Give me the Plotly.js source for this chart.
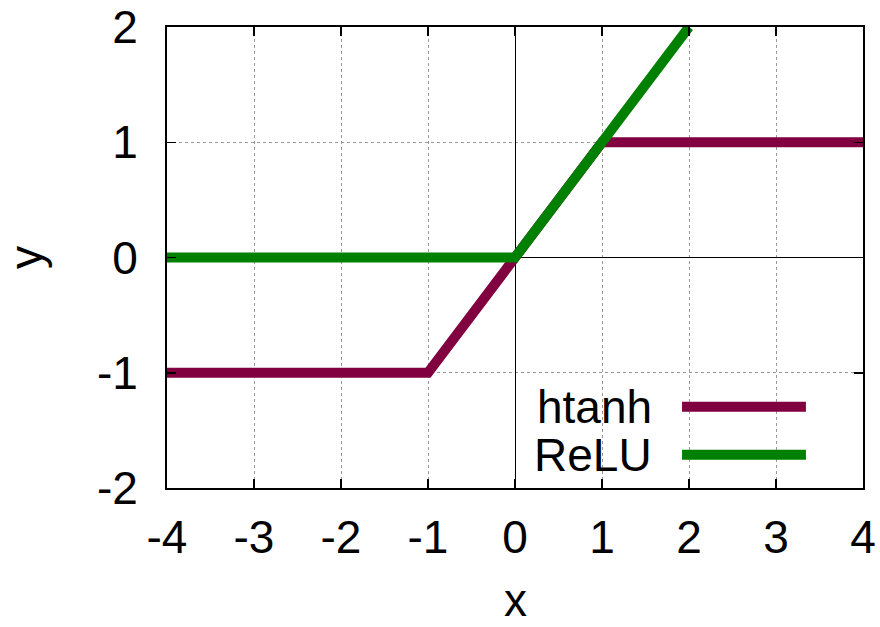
<!DOCTYPE html>
<html>
<head>
<meta charset="utf-8">
<script src="https://cdn.plot.ly/plotly-3.0.1.min.js"></script>
<style>html,body{margin:0;padding:0;background:#fff;}#chart{width:880px;height:627px;}</style>
</head>
<body>
<div id="chart"></div>
<script>
// Data
const seriesNames = ["htanh", "ReLU"];
const htanhX = [-4, -1, 1, 4];
const htanhY = [-1, -1, 1, 1];
const reluX = [-4, 0, 2];
const reluY = [0, 0, 2];
const xTicks = [-4, -3, -2, -1, 0, 1, 2, 3, 4];
const xTickText = ["-4", "-3", "-2", "-1", "0", "1", "2", "3", "4"];
const yTicks = [-2, -1, 0, 1, 2];
const yTickText = ["-2", "-1", "0", "1", "2"];
const xTitle = "x";
const yTitle = "y";
const colors = ["#800040", "#008000"];

const FONT = "Liberation Sans, Arial, sans-serif";

const traces = [
  {x: htanhX, y: htanhY, mode: "lines", name: seriesNames[0], line: {color: colors[0], width: 10}},
  {x: reluX, y: reluY, mode: "lines", name: seriesNames[1], line: {color: colors[1], width: 10}}
];

const axisCommon = {
  showline: true, mirror: "ticks", linecolor: "#000", linewidth: 2,
  ticks: "inside", ticklen: 9, tickwidth: 1.5, tickcolor: "#000",
  showgrid: true, gridcolor: "#999", griddash: "dot", gridwidth: 1,
  zeroline: true, zerolinecolor: "#000", zerolinewidth: 1,
  tickfont: {family: FONT, size: 46, color: "#000"},
  fixedrange: true
};

// legend (gnuplot style: text left, sample right), box at lower right
const legBox = {x0: 0.505, x1: 1, y0: 0, y1: 0.228};
const shapes = [
  {type: "rect", xref: "paper", yref: "paper", x0: legBox.x0, x1: legBox.x1, y0: legBox.y0, y1: legBox.y1,
   fillcolor: "#fff", line: {width: 0}, layer: "between"}
];
const annotations = [];
const rowY = [0.176, 0.072];
seriesNames.forEach((n, i) => {
  shapes.push({type: "line", xref: "paper", yref: "paper", x0: 0.740, x1: 0.918, y0: rowY[i], y1: rowY[i],
    line: {color: colors[i], width: 10}, layer: "above"});
  annotations.push({xref: "paper", yref: "paper", x: 0.70, y: rowY[i], xanchor: "right", yanchor: "middle",
    height: 44, valign: "middle",
    text: n, showarrow: false, font: {family: FONT, size: 46, color: "#000"}});
});
// x axis title
annotations.push({xref: "paper", yref: "paper", x: 0.5, y: -0.243, xanchor: "center", yanchor: "middle",
  text: xTitle, showarrow: false, font: {family: FONT, size: 46, color: "#000"}});

const layout = {
  width: 880, height: 627,
  margin: {l: 167, r: 17, t: 27, b: 139},
  paper_bgcolor: "#fff", plot_bgcolor: "#fff",
  showlegend: false,
  xaxis: Object.assign({}, axisCommon, {
    range: [-4, 4], tickvals: xTicks, ticktext: xTickText, ticklabelstandoff: 8
  }),
  yaxis: Object.assign({}, axisCommon, {
    range: [-2, 2], tickvals: yTicks, ticktext: yTickText, ticklabelstandoff: 18,
    title: {text: yTitle, font: {family: FONT, size: 46, color: "#000"}, standoff: 40}
  }),
  shapes: shapes,
  annotations: annotations
};

Plotly.newPlot("chart", traces, layout, {displayModeBar: false, staticPlot: true});
</script>
</body>
</html>
